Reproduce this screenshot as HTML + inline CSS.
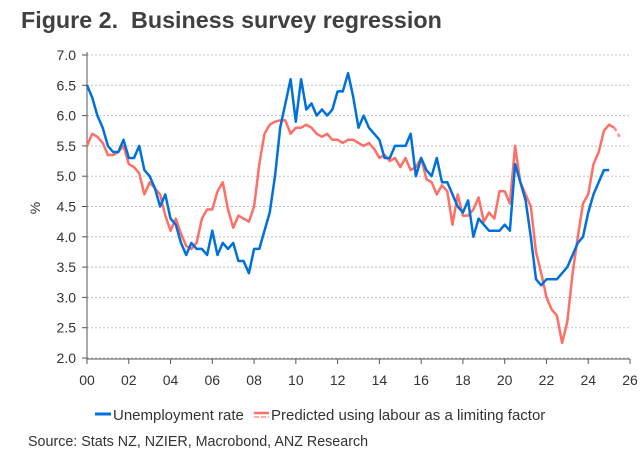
<!DOCTYPE html>
<html><head><meta charset="utf-8"><style>
body{margin:0;background:#fff;font-family:"Liberation Sans",Arial,sans-serif;}
svg text{font-family:"Liberation Sans",Arial,sans-serif;}
</style></head><body>
<svg id="c" width="643" height="459" xmlns="http://www.w3.org/2000/svg">
<text x="21" y="28" font-size="23.3" font-weight="bold" fill="#404040" style="white-space:pre">Figure 2.  Business survey regression</text>
<text x="40" y="208" font-size="14" fill="#333" transform="rotate(-90 40 208)" text-anchor="middle">%</text>
<g id="grid"></g><g id="axes"></g><g id="series"></g>
<g>
<line x1="95" y1="414" x2="111" y2="414" stroke="#0070dd" stroke-width="3"/>
<text x="113" y="420" font-size="15" fill="#333">Unemployment rate</text>
<line x1="254" y1="413" x2="269" y2="413" stroke="#ff6f66" stroke-width="2.5"/>
<line x1="254" y1="417" x2="269" y2="417" stroke="#ff8f88" stroke-width="1.5" stroke-dasharray="5,2"/>
<text x="271" y="420" font-size="15" fill="#333">Predicted using labour as a limiting factor</text>
</g>
<text x="28" y="446" font-size="14.3" fill="#333">Source: Stats NZ, NZIER, Macrobond, ANZ Research</text>
</svg>
<script>
const yTicks=[2.0,2.5,3.0,3.5,4.0,4.5,5.0,5.5,6.0,6.5,7.0];
const xTickLabels=["00","02","04","06","08","10","12","14","16","18","20","22","24","26"];
const unemployment=[6.5,6.3,6.0,5.8,5.5,5.4,5.4,5.6,5.3,5.3,5.5,5.1,5.0,4.8,4.5,4.7,4.3,4.2,3.9,3.7,3.9,3.8,3.8,3.7,4.1,3.7,3.9,3.8,3.9,3.6,3.6,3.4,3.8,3.8,4.1,4.4,5.0,5.8,6.2,6.6,5.9,6.6,6.1,6.2,6.0,6.1,6.0,6.1,6.4,6.4,6.7,6.3,5.8,6.0,5.8,5.7,5.6,5.3,5.3,5.5,5.5,5.5,5.7,5.0,5.3,5.1,5.0,5.3,4.9,4.9,4.7,4.5,4.4,4.6,4.0,4.3,4.2,4.1,4.1,4.1,4.2,4.1,5.2,4.9,4.6,4.0,3.3,3.2,3.3,3.3,3.3,3.4,3.5,3.7,3.9,4.0,4.4,4.7,4.9,5.1,5.1];
const predicted=[5.5,5.7,5.65,5.55,5.35,5.35,5.4,5.5,5.2,5.15,5.05,4.7,4.9,4.8,4.7,4.35,4.1,4.3,4.05,3.85,3.8,3.9,4.3,4.45,4.45,4.75,4.9,4.45,4.15,4.35,4.3,4.25,4.5,5.2,5.7,5.85,5.9,5.92,5.92,5.7,5.8,5.8,5.85,5.8,5.7,5.65,5.7,5.6,5.6,5.55,5.6,5.6,5.55,5.5,5.55,5.45,5.3,5.35,5.25,5.3,5.15,5.3,5.1,5.15,5.3,4.95,4.9,4.7,4.85,4.75,4.2,4.7,4.35,4.35,4.45,4.65,4.25,4.4,4.3,4.75,4.75,4.55,5.5,4.9,4.7,4.5,3.75,3.4,3.0,2.8,2.7,2.25,2.6,3.4,4.0,4.55,4.7,5.2,5.4,5.75,5.85,5.8,5.65];
const startYear=2000, stepYears=0.25;
const X0=87,X1=630,Y0=358,Y1=55;
const xs=yr=>X0+(yr-2000)/26*(X1-X0);
const ys=v=>Y0-(v-2)/5*(Y0-Y1);
const NS="http://www.w3.org/2000/svg";
function mk(tag,attrs,parent){const e=document.createElementNS(NS,tag);for(const k in attrs)e.setAttribute(k,attrs[k]);document.getElementById(parent).appendChild(e);return e;}
yTicks.forEach(v=>{
 const g=mk('line',{x1:X0,x2:X1,y1:ys(v),y2:ys(v),stroke:'#b8c4cc','stroke-dasharray':'2,2','stroke-width':1},'grid');
 
 
 const t=mk('text',{x:76,y:ys(v)+5,'text-anchor':'end','font-size':14,fill:'#333'},'axes');
 t.textContent=v.toFixed(1);
 
 
 const tk=mk('line',{x1:X0-5,x2:X0,y1:ys(v),y2:ys(v),stroke:'#555'},'axes');
 
 
});
const ya=mk('line',{x1:X0,x2:X0,y1:Y1-3,y2:Y0+1,stroke:'#555','stroke-width':1},'axes');


const xa=mk('line',{x1:X0,x2:X1,y1:Y0+1,y2:Y0+1,stroke:'#555','stroke-width':1},'axes');


xTickLabels.forEach((l,i)=>{
 const x=xs(2000+i*2);
 const tk=mk('line',{x1:x,x2:x,y1:Y0+1,y2:Y0+6,stroke:'#555'},'axes');
 
 
 const t=mk('text',{x:x,y:Y0+27,'text-anchor':'middle','font-size':14,fill:'#333'},'axes');
 t.textContent=l;
 
 
});
function pts(arr,from,to){let s=[];for(let i=from;i<=to;i++)s.push(xs(startYear+i*stepYears).toFixed(1)+','+ys(arr[i]).toFixed(1));return s.join(' ');}
const pr=mk('polyline',{points:pts(predicted,0,predicted.length-2),fill:'none',stroke:'#ff6f66','stroke-width':2.5,'stroke-linejoin':'round'},'series');


const prd=mk('polyline',{points:pts(predicted,predicted.length-2,predicted.length-1),fill:'none',stroke:'#ff8f88','stroke-width':2.5,'stroke-dasharray':'4,3'},'series');


const un=mk('polyline',{points:pts(unemployment,0,unemployment.length-1),fill:'none',stroke:'#0070dd','stroke-width':2.5,'stroke-linejoin':'round'},'series');


</script>
</body></html>
